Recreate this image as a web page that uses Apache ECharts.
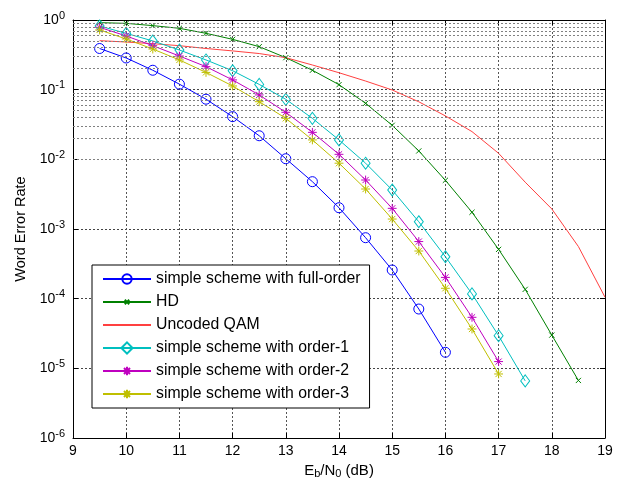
<!DOCTYPE html>
<html>
<head>
<meta charset="utf-8">
<script src="https://cdn.jsdelivr.net/npm/echarts@6/dist/echarts.min.js"></script>
<style>
html,body{margin:0;padding:0;background:#fff;}
#c{width:624px;height:489px;}
</style>
</head>
<body>
<div id="c"></div>
<script>
// ---- data ----
const xFull = [9.5,10,10.5,11,11.5,12,12.5,13,13.5,14,14.5,15,15.5,16];
const werFull = [0.39,0.285,0.19,0.12,0.073,0.041,0.0218,0.0102,0.00478,0.00202,7.5e-4,2.58e-4,7.1e-5,1.7e-5];

const xHD = [9.5,10,10.5,11,11.5,12,12.5,13,13.5,14,14.5,15,15.5,16,16.5,17,17.5,18,18.5];
const werHD = [0.916,0.895,0.83,0.76,0.644,0.528,0.414,0.288,0.19,0.118,0.0637,0.0308,0.0132,0.0050,1.74e-3,5.1e-4,1.36e-4,3.0e-5,6.7e-6];

const xQAM = [9.5,10,10.5,11,11.5,12,12.5,13,13.5,14,14.5,15,15.5,16,16.5,17,17.5,18,18.5,19];
const werQAM = [0.505,0.483,0.457,0.428,0.39,0.36,0.33,0.288,0.226,0.175,0.133,0.099,0.067,0.042,0.025,0.0122,0.0047,1.94e-3,5.6e-4,1.05e-4];

const xO1 = [9.5,10,10.5,11,11.5,12,12.5,13,13.5,14,14.5,15,15.5,16,16.5,17,17.5];
const werO1 = [0.82,0.644,0.5,0.371,0.267,0.187,0.119,0.0727,0.0388,0.019,8.8e-3,3.63e-3,1.27e-3,4.0e-4,1.17e-4,2.94e-5,6.6e-6];

const xO2 = [9.5,10,10.5,11,11.5,12,12.5,13,13.5,14,14.5,15,15.5,16,16.5,17];
const werO2 = [0.785,0.59,0.428,0.304,0.214,0.138,0.084,0.0473,0.0244,0.0118,5.05e-3,1.98e-3,6.6e-4,2.02e-4,5.4e-5,1.25e-5];

const xO3 = [9.5,10,10.5,11,11.5,12,12.5,13,13.5,14,14.5,15,15.5,16,16.5,17];
const werO3 = [0.72,0.534,0.383,0.267,0.177,0.113,0.0672,0.0388,0.019,8.8e-3,3.75e-3,1.39e-3,4.83e-4,1.41e-4,3.67e-5,8.3e-6];

const seriesNames = ['simple scheme with full-order','HD','Uncoded QAM','simple scheme with order-1','simple scheme with order-2','simple scheme with order-3'];
const yMinorGrid = [];
[1e-6,1e-5,1e-4,1e-3,1e-2,1e-1].forEach(d => { for (let m = 2; m <= 9; m++) yMinorGrid.push(+(m*d).toPrecision(3)); });

// ---- styling ----
const FONT = 'Liberation Sans, Arial, Helvetica, sans-serif';
const pair = (xs, ys) => xs.map((x, i) => [x, ys[i]]);
// padded paths (the extra M points enlarge the bounding box so the visible glyph is smaller)
const STAR = 'path://M-13,-13M13,13M0,-10L0,10M-10,0L10,0M-7,-7L7,7M-7,7L7,-7';
const CROSS = 'path://M-25,-25M25,25M-10,-10L10,10M-10,10L10,-10';
const CIRC = 'path://M-12,-12M12,12M10,0A10,10,0,1,1,-10,0A10,10,0,1,1,10,0Z';

function mk(name, xs, ys, color, symbol, size, hideMarker) {
  return {
    name, type: 'line', data: pair(xs, ys),
    symbol: symbol || 'none', symbolSize: size || 0, showSymbol: !!symbol,
    lineStyle: { color, width: 1 },
    itemStyle: hideMarker
      ? { color: 'rgba(0,0,0,0)', borderColor: 'rgba(0,0,0,0)', borderWidth: 0 }
      : { color: 'rgba(0,0,0,0)', borderColor: color, borderWidth: 1 },
    z: 3, animation: false
  };
}

const chart = echarts.init(document.getElementById('c'), null, { renderer: 'canvas' });

const option = {
  animation: false,
  backgroundColor: '#fff',
  textStyle: { fontFamily: FONT },
  grid: { left: 73, top: 20, right: 19, bottom: 51, show: false },
  legend: {
    data: seriesNames,
    orient: 'vertical',
    left: 92, top: 265,
    padding: [6, 9, 6, 10],
    itemGap: 7, itemWidth: 48, itemHeight: 14,
    backgroundColor: '#fff',
    borderColor: '#000', borderWidth: 1,
    textStyle: { fontSize: 15.8, lineHeight: 14, color: '#000', fontFamily: FONT },
    selectedMode: false, z: 10
  },
  xAxis: [{
    type: 'value', min: 9, max: 19, interval: 1,
    axisLine: { show: true, onZero: false, lineStyle: { color: '#000', width: 1 } },
    axisTick: { show: true, inside: true, length: 5, lineStyle: { color: '#000' } },
    axisLabel: { color: '#000', fontSize: 14, margin: 6, fontFamily: FONT },
    splitLine: { show: true, lineStyle: { color: '#555', type: [2, 2], width: 1 } },
    name: '{n|E}{s|b}{n|/N}{s|0}{n| (dB)}',
    nameLocation: 'middle', nameGap: 22,
    nameTextStyle: {
      color: '#000', fontFamily: FONT,
      rich: {
        n: { fontSize: 15, color: '#000', fontFamily: FONT },
        s: { fontSize: 11, color: '#000', fontFamily: FONT, padding: [7, 0, 0, 0] }
      }
    }
  }, {
    type: 'value', min: 9, max: 19, interval: 1, position: 'top',
    axisLine: { show: true, onZero: false, lineStyle: { color: '#000', width: 1 } },
    axisTick: { show: true, inside: true, length: 5, lineStyle: { color: '#000' } },
    axisLabel: { show: false }, splitLine: { show: false }
  }],
  yAxis: [{
    type: 'log', logBase: 10, min: 1e-6, max: 1, splitNumber: 6,
    axisLine: { show: true, onZero: false, lineStyle: { color: '#000', width: 1 } },
    axisTick: { show: true, inside: true, length: 5, lineStyle: { color: '#000' } },
    axisLabel: {
      color: '#000', margin: 8, fontFamily: FONT,
      formatter: v => '{b|10}{s|' + Math.round(Math.log10(v)) + '}',
      rich: {
        b: { fontSize: 14, color: '#000', fontFamily: FONT },
        s: { fontSize: 11, color: '#000', fontFamily: FONT, padding: [0, 0, 9, 0] }
      }
    },
    splitLine: { show: true, lineStyle: { color: '#444', type: [2, 2], width: 1 } },
    name: 'Word Error Rate', nameLocation: 'middle', nameGap: 44,
    nameTextStyle: { color: '#000', fontSize: 14.5, fontFamily: FONT }
  }, {
    type: 'log', logBase: 10, min: 1e-6, max: 1, splitNumber: 6, position: 'right',
    axisLine: { show: true, onZero: false, lineStyle: { color: '#000', width: 1 } },
    axisTick: { show: true, inside: true, length: 5, lineStyle: { color: '#000' } },
    axisLabel: { show: false }, splitLine: { show: false }
  }],
  series: [
    {
      name: '_minorgrid', type: 'line', data: [], silent: true, z: 1,
      markLine: {
        silent: true, symbol: 'none', animation: false,
        label: { show: false },
        lineStyle: { color: '#808080', type: [2, 2], width: 1 },
        data: yMinorGrid.map(v => ({ yAxis: v }))
      }
    },
    mk(seriesNames[0], xFull, werFull, '#0000ff', CIRC, 12),
    mk(seriesNames[1], xHD, werHD, '#008000', CROSS, 13),
    mk(seriesNames[2], xQAM, werQAM, '#ff4040', null, 0, true),
    mk(seriesNames[3], xO1, werO1, '#00bfbf', 'diamond', [9, 12]),
    mk(seriesNames[4], xO2, werO2, '#bf00bf', STAR, 11.5),
    mk(seriesNames[5], xO3, werO3, '#bfbf00', STAR, 11.5)
  ]
};
chart.setOption(option);
</script>
</body>
</html>
